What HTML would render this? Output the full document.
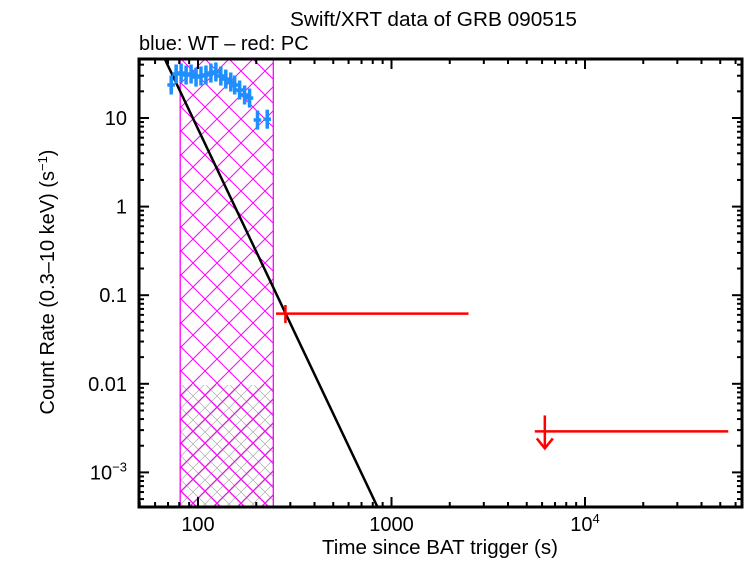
<!DOCTYPE html>
<html><head><meta charset="utf-8"><style>
body{margin:0;background:#fff;}
svg text{font-family:"Liberation Sans",sans-serif;fill:#000;}
</style></head><body>
<svg id="chart" width="746" height="558" viewBox="0 0 746 558" xmlns="http://www.w3.org/2000/svg">
<defs>
<pattern id="mag" patternUnits="userSpaceOnUse" width="24" height="24" x="181" y="59">
<path d="M0,0 L24,24 M24,0 L0,24" stroke="#ff00ff" stroke-width="1" fill="none"/>
</pattern>
<pattern id="gry" patternUnits="userSpaceOnUse" width="12" height="12" x="181" y="0">
<path d="M0,0 L12,12 M12,0 L0,12" stroke="#aaa" stroke-width="0.7" fill="none"/>
</pattern>
<clipPath id="plotclip"><rect x="139" y="59" width="603" height="448"/></clipPath>
</defs>
<text x="290" y="26" font-size="20" textLength="287" lengthAdjust="spacingAndGlyphs">Swift/XRT data of GRB 090515</text>
<text x="139" y="50" font-size="20">blue: WT – red: PC</text>
<text transform="translate(54,282) rotate(-90)" font-size="20" text-anchor="middle">Count Rate (0.3–10 keV) (s<tspan dy="-7" font-size="13">−1</tspan><tspan dy="7">)</tspan></text>
<text x="322" y="554" font-size="20" textLength="236" lengthAdjust="spacingAndGlyphs">Time since BAT trigger (s)</text>
<g id="bands" clip-path="url(#plotclip)"></g>
<g id="marks" clip-path="url(#plotclip)"></g>
<g id="axes"></g>
</svg>
<script>
const wtTime=[72.7,77.1,81.8,86.8,92.1,97.7,103.6,109.9,116.6,123.7,131.2,139.2,147.7,154.7,164.1,174.1,184.7,203,228];
const wtRate=[23.6,31.4,32.2,30.6,31.4,29.0,29.8,30.6,32.2,33.1,29.8,27.5,25.5,23.6,20.7,18.2,16.8,9.5,9.7];
const pcTime=[283];
const pcTimeLo=[253];
const pcTimeHi=[2500];
const pcRate=[0.062];
const ulTime=[6200];
const ulTimeLo=[5500];
const ulTimeHi=[55000];
const ulRate=[0.0029];
const bandTimes=[80.9,245];
const modelNorm=[47.5,67];
const modelSlope=[-4.6];
const xTicks=[100,1000,10000];
const xTickLabels=['100','1000','10^4'];
const yTicks=[10,1,0.1,0.01,0.001];
const yTickLabels=['10','1','0.1','0.01','10^-3'];

const NS='http://www.w3.org/2000/svg';
const L=139,R=742,T=59,B=507;
function X(t){return 198+193.5*(Math.log10(t)-2);}
function Y(r){return 118-88.6*(Math.log10(r)-1);}
function mk(tag,attrs,parent){const e=document.createElementNS(NS,tag);for(const k in attrs)e.setAttribute(k,attrs[k]);parent.appendChild(e);return e;}
const bands=document.getElementById('bands'),marks=document.getElementById('marks'),axes=document.getElementById('axes');

let bx0=X(bandTimes[0]),bx1=X(bandTimes[1]);
let g1=mk('rect',{x:bx0,y:385,width:bx1-bx0,height:B-385,fill:'url(#gry)'},bands);


let m1=mk('rect',{x:bx0,y:T,width:bx1-bx0,height:B-T,fill:'url(#mag)',stroke:'#ff00ff','stroke-width':1.3},bands);



const tA=50,tB=1200;
const rA=modelNorm[0]*Math.pow(tA/modelNorm[1],modelSlope[0]);
const rB=modelNorm[0]*Math.pow(tB/modelNorm[1],modelSlope[0]);
let ml=mk('line',{x1:X(tA),y1:Y(rA),x2:X(tB),y2:Y(rB),stroke:'#000','stroke-width':2.5},marks);



for(let i=0;i<wtTime.length;i++){
  const g=mk('g',{stroke:'#1e8fff','stroke-width':3.5},marks);
  
  
  const t=wtTime[i],r=wtRate[i];
  mk('line',{x1:X(t*0.955),x2:X(t*1.045),y1:Y(r),y2:Y(r)},g);
  mk('line',{x1:X(t),x2:X(t),y1:Y(r*1.28),y2:Y(r*0.78)},g);
}
for(let i=0;i<pcTime.length;i++){
  const g=mk('g',{stroke:'#ff0000','stroke-width':2.5},marks);
  
  
  mk('line',{x1:X(pcTimeLo[i]),x2:X(pcTimeHi[i]),y1:Y(pcRate[i]),y2:Y(pcRate[i])},g);
  mk('line',{x1:X(pcTime[i]),x2:X(pcTime[i]),y1:Y(pcRate[i]*1.25),y2:Y(pcRate[i]*0.78)},g);
}
for(let i=0;i<ulTime.length;i++){
  const g=mk('g',{stroke:'#ff0000','stroke-width':2.5,fill:'none'},marks);
  
  
  const y=Y(ulRate[i]),x=X(ulTime[i]);
  mk('line',{x1:X(ulTimeLo[i]),x2:X(ulTimeHi[i]),y1:y,y2:y},g);
  mk('line',{x1:x,x2:x,y1:y-16,y2:y+17},g);
  mk('polyline',{points:`${x-8},${y+7} ${x},${y+17} ${x+8},${y+7}`},g);
}

let fr=mk('rect',{x:L,y:T,width:R-L,height:B-T,fill:'none',stroke:'#000','stroke-width':3},axes);


for(let d=1;d<=4;d++){for(let m=1;m<10;m++){const t=m*Math.pow(10,d);const x=X(t);if(x<L||x>R)continue;const len=m==1?10:5;
 mk('line',{x1:x,x2:x,y1:B,y2:B-len,stroke:'#000','stroke-width':2},axes);
 mk('line',{x1:x,x2:x,y1:T,y2:T+len,stroke:'#000','stroke-width':2},axes);}}
for(let i=0;i<xTicks.length;i++){
  const lab=xTickLabels[i];const tx=mk('text',{x:X(xTicks[i]),y:531,'font-size':20,'text-anchor':'middle'},axes);
  
  
  if(lab.includes('^')){const [b,e]=lab.split('^');tx.textContent=b;const ts=mk('tspan',{dy:-8,'font-size':13},tx);ts.textContent=e;}
  else tx.textContent=lab;
}
for(let d=-4;d<=1;d++){for(let m=1;m<10;m++){const r=m*Math.pow(10,d);const y=Y(r);if(y<T||y>B)continue;const len=m==1?10:5;
 mk('line',{x1:L,x2:L+len,y1:y,y2:y,stroke:'#000','stroke-width':2},axes);
 mk('line',{x1:R,x2:R-len,y1:y,y2:y,stroke:'#000','stroke-width':2},axes);}}
for(let i=0;i<yTicks.length;i++){
  const lab=yTickLabels[i];const tx=mk('text',{x:127,y:Y(yTicks[i])+7,'font-size':20,'text-anchor':'end'},axes);
  
  
  if(lab.includes('^')){const [b,e]=lab.split('^');tx.textContent=b;const ts=mk('tspan',{dy:-8,'font-size':13},tx);ts.textContent=e.replace('-','−');}
  else tx.textContent=lab;
}
</script>
</body></html>
